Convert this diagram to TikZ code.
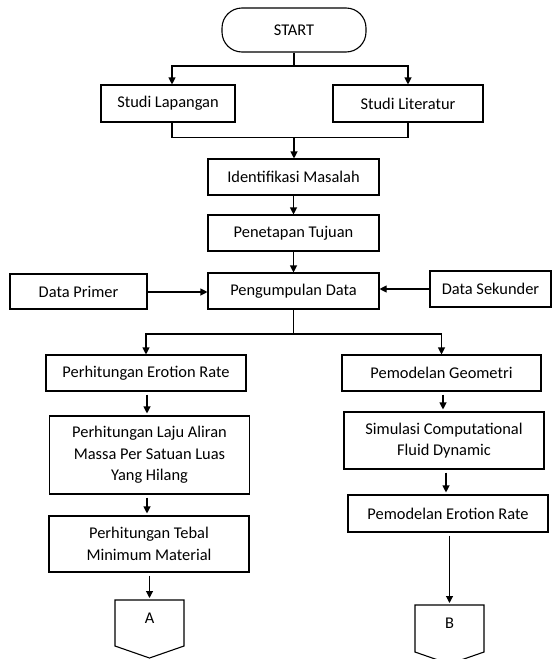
\documentclass[tikz,border=0pt]{standalone}
\usepackage{fontspec}
\setmainfont{Carlito}
\usetikzlibrary{arrows.meta}
\begin{document}
\begin{tikzpicture}[x=1pt,y=-1pt,
  box/.style={draw, line width=1.1pt, font=\fontsize{16.4}{21.5}\selectfont, align=center, inner sep=0pt},
  lbl/.style={font=\fontsize{16.4}{21.5}\selectfont, inner sep=0pt},
  ln/.style={line width=1.1pt},
  arr/.style={line width=1.1pt, -{Triangle[length=7pt,width=7pt]}},
  sarr/.style={arr, shorten <=3pt, shorten >=2pt}]
\useasboundingbox (0,0) rectangle (552,659);
% nodes
\node[box, rounded corners=20pt, minimum width=144pt, minimum height=44pt] (start) at (294,30) {START};
\node[box, minimum width=134pt, minimum height=37pt] (lap) at (168,103.5) {Studi Lapangan};
\node[box, minimum width=150pt, minimum height=37pt] (lit) at (408,103.5) {Studi Literatur};
\node[box, minimum width=171pt, minimum height=36pt] (iden) at (293.5,177) {Identifikasi Masalah};
\node[box, minimum width=171pt, minimum height=36pt] (pen) at (293.5,233) {Penetapan Tujuan};
\node[box, minimum width=171pt, minimum height=36pt] (pdata) at (293.5,291) {Pengumpulan Data};
\node[box, minimum width=137pt, minimum height=35pt] (prim) at (78.5,291.5) {Data Primer};
\node[box, minimum width=121pt, minimum height=36pt] (sek) at (490.5,289) {Data Sekunder};
\node[box, minimum width=200pt, minimum height=36pt] (per) at (146,373) {Perhitungan Erotion Rate};
\node[box, minimum width=200pt, minimum height=78pt] (laju) at (149.5,455) {Perhitungan Laju Aliran\\Massa Per Satuan Luas\\Yang Hilang};
\node[box, minimum width=200pt, minimum height=56pt] (teb) at (149,544) {Perhitungan Tebal\\Minimum Material};
\node[box, minimum width=199pt, minimum height=36pt] (pg) at (441.5,373) {Pemodelan Geometri};
\node[box, minimum width=200pt, minimum height=57pt] (sim) at (444,440.5) {Simulasi Computational\\Fluid Dynamic};
\node[box, minimum width=200pt, minimum height=37pt] (per2) at (448,513.5) {Pemodelan Erotion Rate};
% off-page connectors
\node[lbl] (A) at (149.5,618) {A};
\node[lbl] (B) at (449.5,623) {B};
\coordinate (Atop) at (149.5,600);
\coordinate (Btop) at (449.5,605);
\draw[ln] (115,600) -- (184,600) -- (184,646) -- (149.5,658) -- (115,646) -- cycle;
\draw[ln] (415,605) -- (484,605) -- (484,652) -- (449.5,664) -- (415,652) -- cycle;
% connectors
\coordinate (s1) at (294,66);
\draw[ln] (start.south) -- (s1);
\draw[arr] (s1) -| ([xshift=4pt]lap.north);
\draw[arr] (s1) -| (lit.north);
\draw[ln] ([xshift=4pt]lap.south) -- ++(0,15) -| (lit.south);
\coordinate (j) at (294,137);
\draw[arr] (j) -- (j |- iden.north);
\draw[arr] (iden.south) -- (pen.north);
\draw[arr] (pen.south) -- (pdata.north);
\draw[arr] (prim.east |- 0,292) -- (pdata.west |- 0,292);
\draw[arr] (sek.west) -- (sek.west -| pdata.east);
\coordinate (s2) at (293.5,334);
\draw[ln] (pdata.south) -- (s2);
\draw[arr] (s2) -| (per.north);
\draw[arr] (s2) -| (pg.north);
\coordinate (c1) at (147,0);
\draw[sarr] (c1 |- per.south) -- (c1 |- laju.north);
\draw[sarr] (c1 |- laju.south) -- (c1 |- teb.north);
\draw[sarr] (Atop |- teb.south) -- (Atop);
\coordinate (c2) at (443,0);
\coordinate (c3) at (446,0);
\draw[sarr] (c2 |- pg.south) -- (c2 |- sim.north);
\draw[sarr] (c3 |- sim.south) -- (c3 |- per2.north);
\draw[sarr] (Btop |- per2.south) -- (Btop);
\end{tikzpicture}
\end{document}
